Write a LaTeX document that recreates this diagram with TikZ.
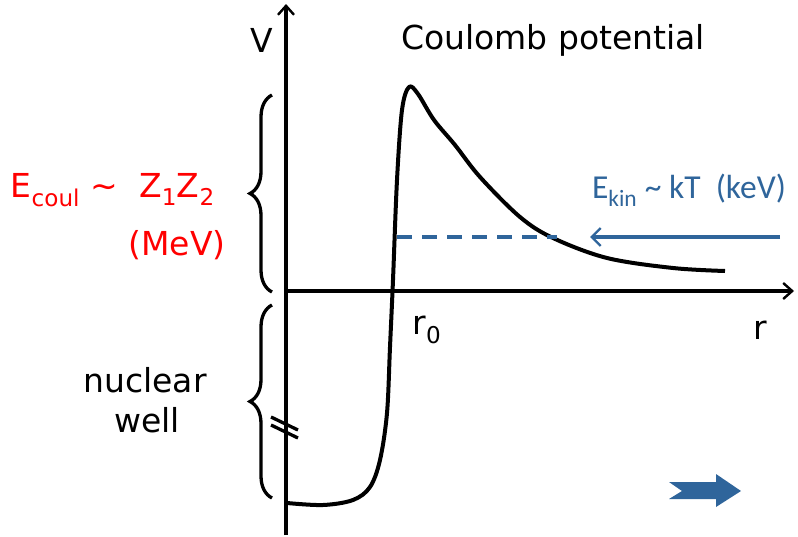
\documentclass[tikz,border=0pt]{standalone}
\usepackage{fontspec}
\setmainfont{DejaVu Sans}
\newfontfamily\calfont{Carlito}
\usepackage{xcolor}
\usetikzlibrary{arrows.meta, decorations.pathreplacing, positioning}
\definecolor{kinblue}{RGB}{47,101,155}

\begin{document}
\begin{tikzpicture}[
    x=1pt, y=-1pt,
    axis/.style={line width=3.3pt, -{Straight Barb[length=9pt, width=16pt, line width=2.4pt]}},
    curve/.style={line width=4pt, line join=round},
    bracebox/.style={line width=3.3pt, decorate, decoration={brace, amplitude=22pt}},
    label/.style={font=\fontsize{33}{36}\selectfont, inner sep=0pt},
    redlabel/.style={label, text=red},
    kinlabel/.style={font=\calfont\fontsize{33.5}{36}\selectfont, text=kinblue, inner sep=0pt},
    energy/.style={line width=3.3pt, draw=kinblue}
]
\useasboundingbox (0,0) rectangle (798,536);

% Axes
\coordinate (origin) at (286,291);
\coordinate (vbot) at (286,535);
\coordinate (vtop) at (286,4);
\coordinate (rend) at (794,291);
\draw[axis] (vbot) -- (vtop);
\draw[axis] (284,291) -- (rend);

% Axis labels
\node[label] (vlab) at (262,40) {V};
\node[label] (rlab) at (760,330) {r};
\node[label] (r0lab) at (427,330) {r\textsubscript{0}};
\node[label] (title) at (553,40) {Coulomb potential};

% Potential curve
\draw[curve] plot[smooth, tension=0.55] coordinates {
    (287,503) (323,505) (353,500) (370,487) (380,460) (387,413)
    (390,347) (393,280) (397,180) (402,110) (409,87) (418,94)
    (434,120) (455,145) (480,177) (520,217) (553,238) (607,258)
    (673,268) (725,271)};

% Kinetic energy
\coordinate (ekinstart) at (780,237);
\coordinate (ekinend) at (590,237);
\coordinate (dashstart) at (397,237);
\coordinate (dashend) at (557,237);
\draw[energy, dash pattern=on 15pt off 10pt] (dashstart) -- (dashend);
\draw[energy, -{Straight Barb[length=9pt, width=18pt, line width=2.4pt]}] (ekinstart) -- (ekinend);
\node[kinlabel] (ekin) at (689,190) {E\textsubscript{kin} \textasciitilde\ kT\ \ (keV)};

% Braces
\draw[bracebox] (272,292) -- (272,95);
\draw[bracebox] (272,498) -- (272,305);
\node[redlabel, anchor=east] (ecoul) at (215,190) {E\textsubscript{coul} \textasciitilde\ \ Z\textsubscript{1}Z\textsubscript{2}};
\node[redlabel] (mev) at (177,245) {(MeV)};
\node[label] (nuclear) at (145,380) {nuclear};
\node[label] (well) at (147,420) {well};

% Axis break
\draw[line width=3.3pt] (271,417) -- (298,430);
\draw[line width=3.3pt] (271,425) -- (298,438);

% Block arrow
\fill[kinblue] (669,482) -- (716,482) -- (716,474) -- (741,491) -- (716,507)
    -- (716,499) -- (669,499) -- (682,491) -- cycle;

\end{tikzpicture}
\end{document}
